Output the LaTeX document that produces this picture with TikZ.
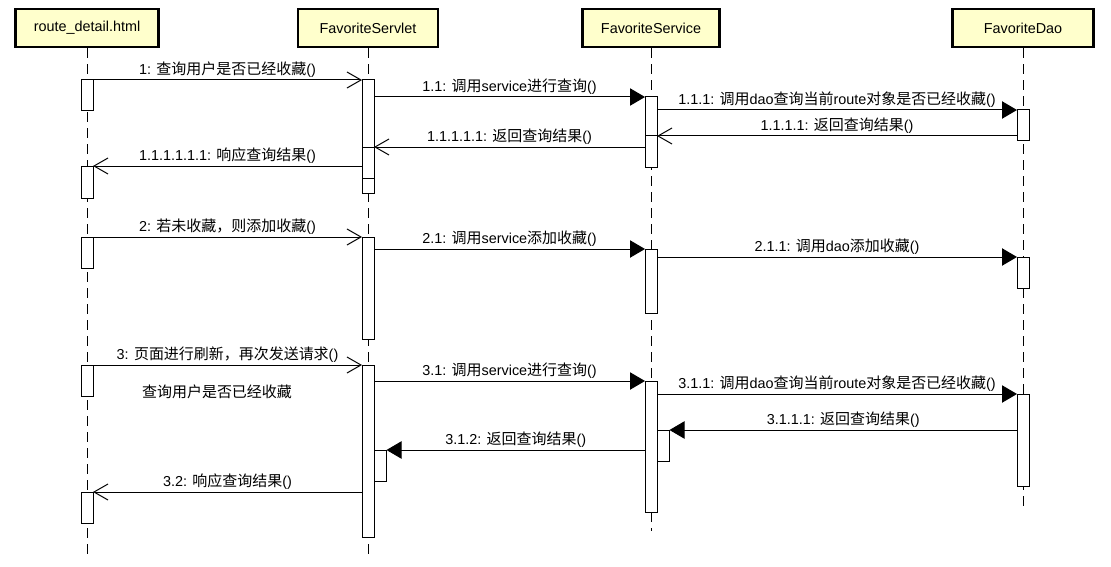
\documentclass[tikz,border=0pt]{standalone}
\usepackage{fontspec}
\setmainfont{Liberation Sans}
\newfontfamily\zhfont[Scale=1.04]{Noto Sans CJK SC}
\newcommand{\zh}[1]{{\zhfont #1}}
\usetikzlibrary{arrows.meta}
\definecolor{headyellow}{RGB}{255,255,204}
\tikzstyle{head}=[draw, line width=2.2pt, fill=headyellow, inner sep=0pt, minimum height=28.5pt, font=\fontsize{10.8pt}{12pt}\selectfont]
\tikzstyle{lifeline}=[dash pattern=on 7.5pt off 4.5pt, line width=0.75pt]
\tikzstyle{actbar}=[draw, line width=0.75pt, fill=white, inner sep=0pt, outer sep=0pt, minimum width=9pt, anchor=north]
\tikzstyle{synccall}=[line width=0.75pt, -{Triangle[length=11.25pt,width=13pt]}]
\tikzstyle{opencall}=[line width=0.75pt, -{Straight Barb[length=10.5pt,width=12pt]}]
\tikzstyle{lbl}=[midway, above, inner sep=1.5pt, font=\fontsize{10.8pt}{12pt}\selectfont]
\newcommand{\actbar}[4]{\node[actbar, minimum height={(#4-#3)*0.75pt}] (#1) at (#2,#3) {};}

\begin{document}
\begin{tikzpicture}[x=0.75pt,y=-0.75pt]
		\useasboundingbox (0,0) rectangle (1111,567);
		
		\node[head, minimum width=107pt] (rd) at (87,28) {route\_detail.html};
		\node[head, minimum width=105pt] (fs) at (368,28) {FavoriteServlet};
		\node[head, minimum width=103pt] (sv) at (651,28) {FavoriteService};
		\node[head, minimum width=106pt] (fd) at (1023,28) {FavoriteDao};
		
		\coordinate (rdEnd) at (87,555);
		\coordinate (fsEnd) at (368,555);
		\coordinate (svEnd) at (651,531);
		\coordinate (fdEnd) at (1023,506);
		\draw[lifeline] (rd.south) -- (rdEnd);
		\draw[lifeline] (fs.south) -- (fsEnd);
		\draw[lifeline] (sv.south) -- (svEnd);
		\draw[lifeline] (fd.south) -- (fdEnd);
		
		\actbar{rd1}{87}{80}{111}
		\actbar{fs1}{368}{80}{193}
		\actbar{fs1b}{368}{147}{178}
		\actbar{sv1}{651}{97}{167}
		\actbar{sv1b}{651}{136}{167}
		\actbar{fd1}{1023}{110}{141}
		\actbar{rd2}{87}{166}{198}
		
		\actbar{rd3}{87}{237}{268}
		\actbar{fs2}{368}{237}{339}
		\actbar{sv2}{651}{249}{313}
		\actbar{fd2}{1023}{257}{288}
		
		\actbar{rd4}{87}{365}{396}
		\actbar{fs3}{368}{365}{537}
		\actbar{fs3b}{380.5}{450}{481}
		\actbar{sv3}{651}{381}{512}
		\actbar{sv3b}{663.5}{430}{461}
		\actbar{fd3}{1023}{394}{486}
		\actbar{rd5}{87}{492}{523}
		
		\draw[opencall] (rd1.north east) -- (fs1.north west) node[lbl]{1: \zh{查询用户是否已经收藏}()};
		\draw[synccall] (fs1.east |- sv1.north) -- (sv1.north west) node[lbl]{1.1: \zh{调用}service\zh{进行查询}()};
		\draw[synccall] (sv1.east |- fd1.north) -- (fd1.north west) node[lbl]{1.1.1: \zh{调用}dao\zh{查询当前}route\zh{对象是否已经收藏}()};
		\draw[opencall] (fd1.west |- sv1b.north) -- (sv1b.north east) node[lbl]{1.1.1.1: \zh{返回查询结果}()};
		\draw[opencall] (sv1.west |- fs1b.north) -- (fs1b.north east) node[lbl]{1.1.1.1.1: \zh{返回查询结果}()};
		\draw[opencall] (fs1.west |- rd2.north) -- (rd2.north east) node[lbl]{1.1.1.1.1.1: \zh{响应查询结果}()};
		
		\draw[opencall] (rd3.north east) -- (fs2.north west) node[lbl]{2: \zh{若未收藏，则添加收藏}()};
		\draw[synccall] (fs2.east |- sv2.north) -- (sv2.north west) node[lbl]{2.1: \zh{调用}service\zh{添加收藏}()};
		\draw[synccall] (sv2.east |- fd2.north) -- (fd2.north west) node[lbl]{2.1.1: \zh{调用}dao\zh{添加收藏}()};
		
		\draw[opencall] (rd4.north east) -- (fs3.north west) node[lbl]{3: \zh{页面进行刷新，再次发送请求}()};
		\draw[synccall] (fs3.east |- sv3.north) -- (sv3.north west) node[lbl]{3.1: \zh{调用}service\zh{进行查询}()};
		\draw[synccall] (sv3.east |- fd3.north) -- (fd3.north west) node[lbl]{3.1.1: \zh{调用}dao\zh{查询当前}route\zh{对象是否已经收藏}()};
		\draw[synccall] (fd3.west |- sv3b.north) -- (sv3b.north east) node[lbl]{3.1.1.1: \zh{返回查询结果}()};
		\draw[synccall] (sv3.west |- fs3b.north) -- (fs3b.north east) node[lbl]{3.1.2: \zh{返回查询结果}()};
		\draw[opencall] (fs3.west |- rd5.north) -- (rd5.north east) node[lbl]{3.2: \zh{响应查询结果}()};
		
		\node[font=\fontsize{10.8pt}{12pt}\selectfont] (note) at (217,392) {\zh{查询用户是否已经收藏}};
\end{tikzpicture}
\end{document}
